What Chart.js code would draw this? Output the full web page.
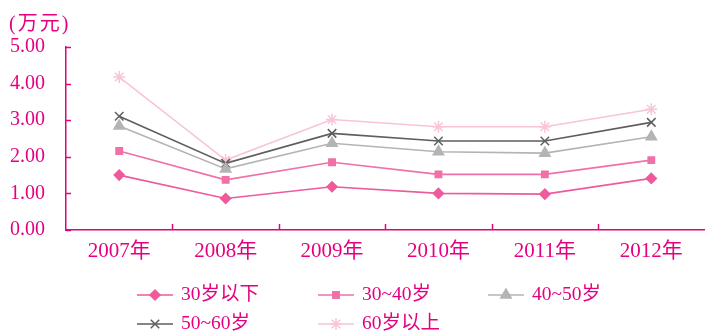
<!DOCTYPE html>
<html>
<head>
<meta charset="utf-8">
<script src="https://cdn.jsdelivr.net/npm/chart.js@4/dist/chart.umd.min.js"></script>
<style>
  html, body { margin: 0; padding: 0; background: #fff; overflow: hidden; }
  #wrap { position: relative; width: 712px; height: 331px; }
</style>
</head>
<body>
<div id="wrap"><canvas id="c"></canvas></div>
<script>
// Per-capita figures by age group, in 10k yuan
const years = ['2007年', '2008年', '2009年', '2010年', '2011年', '2012年'];
const under30 = [1.50, 0.86, 1.18, 1.00, 0.98, 1.41];
const age30to40 = [2.16, 1.37, 1.85, 1.52, 1.52, 1.91];
const age40to50 = [2.84, 1.67, 2.37, 2.14, 2.10, 2.55];
const age50to60 = [3.11, 1.82, 2.64, 2.43, 2.43, 2.94];
const over60 = [4.18, 1.91, 3.02, 2.82, 2.82, 3.30];
const seriesNames = ['30岁以下', '30~40岁', '40~50岁', '50~60岁', '60岁以上'];
const yTicks = [0, 1, 2, 3, 4, 5];
const unitLabel = '(万元)';

const AXIS = '#e4007f';
const FONT = "'Liberation Serif', 'Noto Sans CJK SC', serif";

const styles = [
  { color: '#ee5b9b', point: 'rectRot', r: 5 },
  { color: '#f070a8', point: 'rect', r: 4.5 },
  { color: '#b4b4b4', point: 'triangle', r: 6 },
  { color: '#5e5e5e', point: 'crossRot', r: 6 },
  { color: '#f8c4da', point: 'star', r: 6 }
];
const values = [under30, age30to40, age40to50, age50to60, over60];

const datasets = values.map((v, i) => ({
  label: seriesNames[i],
  data: v,
  borderColor: styles[i].color,
  backgroundColor: styles[i].color,
  pointBorderColor: styles[i].color,
  pointBackgroundColor: styles[i].color,
  pointStyle: styles[i].point,
  pointRadius: styles[i].r,
  pointBorderWidth: 1.5,
  borderWidth: 1.6,
  tension: 0
}));

// Axis furniture: unit label, inward tick marks and a two-row legend
const decor = {
  id: 'decor',
  afterDraw(chart) {
    const ctx = chart.ctx;
    const x = chart.scales.x, y = chart.scales.y;
    const area = chart.chartArea;
    ctx.save();
    ctx.strokeStyle = AXIS;
    ctx.lineWidth = 1.5;
    // y ticks pointing into the plot
    yTicks.forEach(v => {
      const py = Math.round(y.getPixelForValue(v)) + 0.5;
      ctx.beginPath();
      ctx.moveTo(area.left, py);
      ctx.lineTo(area.left + 5, py);
      ctx.stroke();
    });
    // x ticks at category boundaries
    const step = x.getPixelForValue(1) - x.getPixelForValue(0);
    for (let i = 1; i < years.length; i++) {
      const px = Math.round(x.getPixelForValue(i) - step / 2) + 0.5;
      ctx.beginPath();
      ctx.moveTo(px, area.bottom);
      ctx.lineTo(px, area.bottom - 6);
      ctx.stroke();
    }
    // unit label
    ctx.fillStyle = AXIS;
    ctx.font = '20px ' + FONT;
    ctx.letterSpacing = '2px';
    ctx.textAlign = 'left';
    ctx.textBaseline = 'middle';
    ctx.fillText(unitLabel, 9, 25);
    ctx.letterSpacing = '0px';

    // legend
    const slots = [
      [137, 295], [318, 295], [488, 295],
      [137, 324], [318, 324]
    ];
    chart.data.datasets.forEach((ds, i) => {
      const [lx, ly] = slots[i];
      ctx.strokeStyle = ds.borderColor;
      ctx.fillStyle = ds.backgroundColor;
      ctx.lineWidth = 1.6;
      ctx.beginPath();
      ctx.moveTo(lx, ly);
      ctx.lineTo(lx + 36, ly);
      ctx.stroke();
      ctx.lineWidth = 1.5;
      Chart.helpers.drawPoint(ctx, {
        pointStyle: ds.pointStyle,
        radius: ds.pointRadius,
        rotation: 0,
        borderWidth: 1.5
      }, lx + 18, ly);
      ctx.fillStyle = AXIS;
      ctx.font = '19.5px ' + FONT;
      ctx.textAlign = 'left';
      ctx.textBaseline = 'middle';
      ctx.fillText(ds.label, lx + 44, ly);
    });
    ctx.restore();
  }
};

new Chart(document.getElementById('c'), {
  type: 'line',
  data: { labels: years, datasets },
  options: {
    responsive: true,
    maintainAspectRatio: false,
    animation: false,
    layout: { padding: { top: 47, left: 0, right: 0, bottom: 0 } },
    plugins: { legend: { display: false }, tooltip: { enabled: false } },
    scales: {
      x: {
        offset: true,
        grid: { display: false, drawTicks: false },
        border: { display: true, color: AXIS, width: 1.5 },
        ticks: { color: AXIS, font: { family: FONT, size: 21 }, padding: 9, maxRotation: 0 },
        afterFit(s) { s.height = 101; }
      },
      y: {
        min: 0,
        max: 5,
        afterBuildTicks(s) { s.ticks = yTicks.map(v => ({ value: v })); },
        grid: { display: false, drawTicks: false },
        border: { display: true, color: AXIS, width: 1.5 },
        ticks: {
          color: AXIS,
          font: { family: FONT, size: 20 },
          padding: 21,
          callback: v => Number(v).toFixed(2)
        },
        afterFit(s) { s.width = 66; }
      }
    }
  },
  plugins: [decor]
});
</script>
</body>
</html>
